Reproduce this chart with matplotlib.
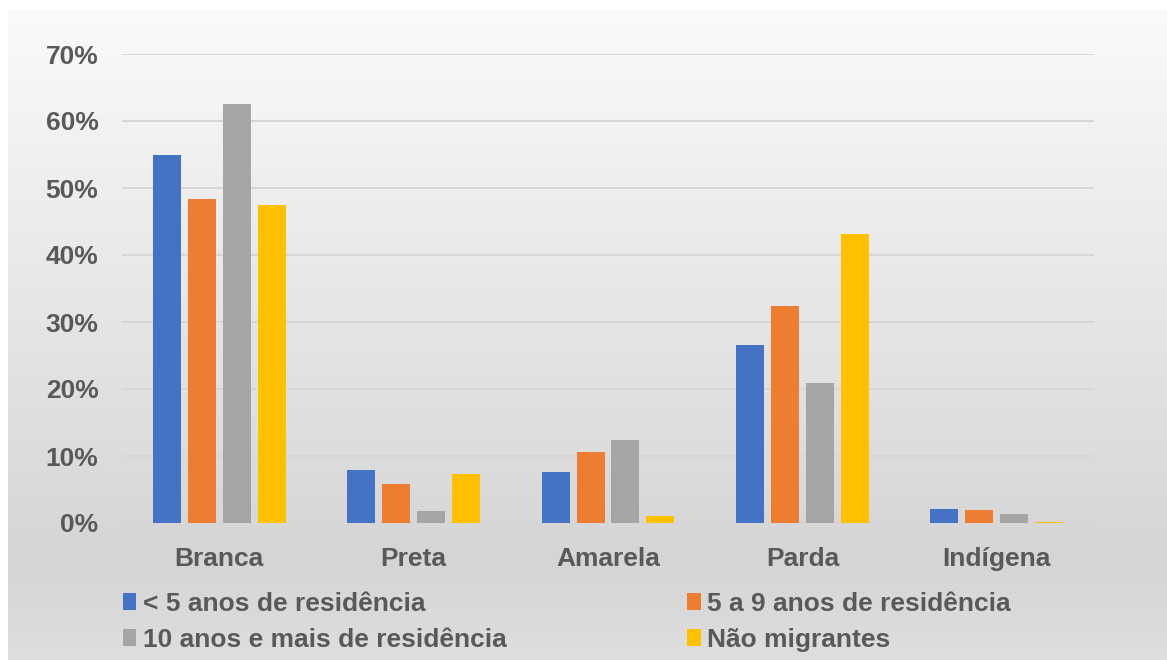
import numpy as np
import matplotlib.pyplot as plt
from matplotlib.colors import LinearSegmentedColormap

plt.rcParams['font.family'] = ['Liberation Sans', 'DejaVu Sans']

# data (percent)
categories = ['Branca', 'Preta', 'Amarela', 'Parda', 'Indígena']
series_names = ['< 5 anos de residência', '5 a 9 anos de residência',
                '10 anos e mais de residência', 'Não migrantes']
menos_5 = [54.9, 7.9, 7.6, 26.6, 2.1]
de_5_a_9 = [48.4, 5.8, 10.6, 32.4, 2.0]
mais_10 = [62.5, 1.8, 12.4, 20.9, 1.3]
nao_migrantes = [47.5, 7.3, 1.0, 43.1, 0.2]
yticks = [0, 10, 20, 30, 40, 50, 60, 70]

colors = ['#4472C4', '#ED7D31', '#A5A5A5', '#FFC000']
txt = '#595959'

fig = plt.figure(figsize=(11.67, 6.6), dpi=100)
fig.patch.set_facecolor('white')

# gradient background of the chart area
bg = fig.add_axes([8 / 1167, 0, 1 - 8 / 1167, 650 / 660], zorder=-5)
cmap = LinearSegmentedColormap.from_list(
    'bg', [(0, '#FAFAFA'), (0.85, '#D5D5D5'), (1.0, '#DEDEDE')])
bg.imshow(np.linspace(0, 1, 256).reshape(-1, 1), aspect='auto', cmap=cmap,
          extent=[0, 1, 1, 0])
bg.axis('off')

ax = fig.add_axes([122 / 1167, 137 / 660, 972 / 1167, 469 / 660])
ax.patch.set_alpha(0)

x = np.arange(len(categories))
width = 0.144
step = 0.18
handles = []
for i, vals in enumerate([menos_5, de_5_a_9, mais_10, nao_migrantes]):
    b = ax.bar(x + (i - 1.5) * step, vals, width, color=colors[i],
               label=series_names[i], zorder=3)
    handles.append(b)

ax.set_xlim(-0.5, len(categories) - 0.5)
ax.set_ylim(0, 70)
ax.set_yticks(yticks)
ax.set_yticklabels([f'{v}%' for v in yticks])
ax.set_xticks(x)
ax.set_xticklabels(categories)
ax.grid(axis='y', color='#D6D6D6', linewidth=1.4, zorder=0)
for s in ['top', 'right', 'left']:
    ax.spines[s].set_visible(False)
ax.spines['bottom'].set_color('#D6D6D6')
ax.spines['bottom'].set_linewidth(1.4)
ax.tick_params(axis='both', length=0, labelsize=19, labelcolor=txt)
ax.tick_params(axis='y', pad=17)
ax.tick_params(axis='x', pad=17.5)
for lab in ax.get_xticklabels() + ax.get_yticklabels():
    lab.set_fontweight('bold')

order = [0, 2, 1, 3]
leg = fig.legend([handles[i] for i in order], [series_names[i] for i in order],
                 ncol=2, loc='upper left', bbox_to_anchor=(123 / 1167, 1 - 592 / 660),
                 frameon=False, fontsize=19, handlelength=0.5, handleheight=0.6,
                 handletextpad=0.25, columnspacing=6.85, labelspacing=0.44,
                 borderpad=0, borderaxespad=0)
for t in leg.get_texts():
    t.set_color(txt)
    t.set_fontweight('bold')

fig.savefig('out.png', dpi=100)
